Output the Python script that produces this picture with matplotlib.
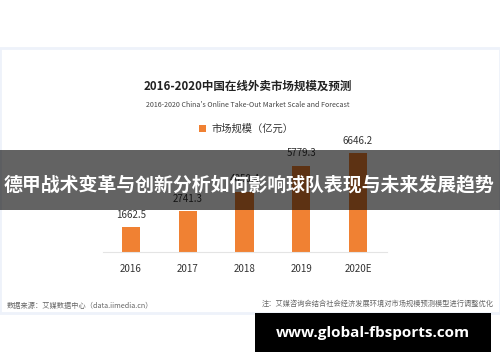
import matplotlib
matplotlib.use("Agg")
import matplotlib.pyplot as plt
from matplotlib.patches import Rectangle

plt.rcParams["font.family"] = ["Noto Sans CJK SC", "DejaVu Sans"]

years = ["2016", "2017", "2018", "2019", "2020E"]
market = [1662.5, 2741.3, 4050.4, 5779.3, 6646.2]
value_labels = ["1662.5", "2741.3", "4050.4", "5779.3", "6646.2"]

W, H = 500, 362
fig = plt.figure(figsize=(W / 100, H / 100), dpi=100)
fig.patch.set_facecolor("white")


def fx(px):
    return px / W


def fy(py):
    return 1 - py / H


# card background with faint blue edge
fig.patches.append(Rectangle((fx(0), fy(313)), fx(500), (313 - 48) / H,
                             transform=fig.transFigure, facecolor="white",
                             edgecolor="#eef2fa", lw=2.0, zorder=-5))

fig.text(fx(248), fy(86), "2016-2020中国在线外卖市场规模及预测", ha="center", va="center",
         fontsize=8.3, fontweight="bold", color="#222222")
fig.text(fx(248), fy(105), "2016-2020 China's Online Take-Out Market Scale and Forecast",
         ha="center", va="center", fontsize=5.1, color="#444444")

# bar axes: baseline at y=252 px, x centres 131..358 px
ax = fig.add_axes([fx(103), fy(252), fx(387 - 103), (252 - 140) / H])
ax.set_zorder(2)
ax.bar(range(len(years)), market, width=0.32, color="#f08133", zorder=2,
       label="市场规模（亿元）")
for i, (v, t) in enumerate(zip(market, value_labels)):
    ax.text(i, v + 520, t, ha="center", va="bottom", fontsize=7, color="#333333")
ax.set_xlim(-0.49, 4.51)
ax.set_ylim(0, 7542)
ax.set_xticks(range(len(years)))
ax.set_xticklabels(years, fontsize=7, color="#333333")
ax.tick_params(axis="x", length=0, pad=9)
ax.set_yticks([])
for s in ["top", "right", "left"]:
    ax.spines[s].set_visible(False)
ax.spines["bottom"].set_color("#e4e4e4")
ax.spines["bottom"].set_linewidth(0.8)
ax.patch.set_alpha(0)
ax.legend(loc="center", bbox_to_anchor=(fx(246), fy(129)), bbox_transform=fig.transFigure,
          frameon=False, fontsize=7.4, handlelength=0.7, handleheight=0.7, handletextpad=0.5,
          labelcolor="#333333")

fig.text(fx(7), fy(306), "数据来源：艾媒数据中心（data.iimedia.cn）", ha="left", va="center",
         fontsize=5.2, color="#666666")
fig.text(fx(494), fy(304), "注：艾媒咨询会结合社会经济发展环境对市场规模预测模型进行调整优化",
         ha="right", va="center", fontsize=5.2, color="#666666")

# overlay banner (above the chart axes)
fig.patches.append(Rectangle((0, fy(210)), 1, 60 / H, transform=fig.transFigure,
                             facecolor="black", alpha=0.61, zorder=10))
fig.text(fx(249), fy(185), "德甲战术变革与创新分析如何影响球队表现与未来发展趋势",
         ha="center", va="center", fontsize=13.6, fontweight="bold", color="white", zorder=11)

# watermark box
fig.patches.append(Rectangle((fx(255), fy(352)), fx(236), 39 / H, transform=fig.transFigure,
                             facecolor="black", zorder=10))
fig.text(fx(373), fy(333), "www.global-fbsports.com", ha="center", va="center",
         fontsize=11, fontweight="bold", color="white", zorder=11,
         family=["Open Sans", "DejaVu Sans"])

fig.savefig("out.png", dpi=100, facecolor="white")
